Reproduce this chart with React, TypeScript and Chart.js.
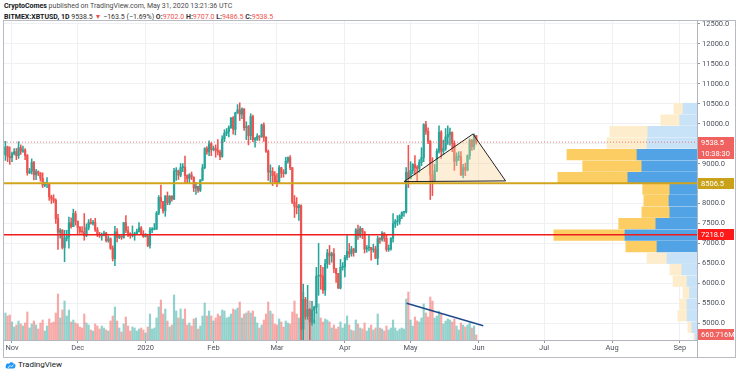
import React, { useEffect, useRef } from 'react';
import { Chart, registerables } from 'chart.js';

Chart.register(...registerables);

// day index 0 = Nov 1, 2019; first candle = Oct 29, 2019
const FIRST_DAY = -3;

// [open, high, low, close]
const CANDLES: number[][] = [
  // Oct 29-31
  [9220, 9560, 9080, 9420], [9420, 9440, 9050, 9180], [9180, 9420, 8980, 9150],
  // Nov
  [9150, 9290, 9050, 9250], [9250, 9380, 9220, 9300], [9300, 9380, 9100, 9200], [9200, 9550, 9130, 9400],
  [9400, 9470, 9230, 9310], [9310, 9440, 9280, 9340], [9340, 9380, 9100, 9200], [9200, 9230, 8710, 8770],
  [8770, 8880, 8750, 8810], [8810, 9120, 8740, 9030], [9030, 9060, 8590, 8720], [8720, 8860, 8600, 8800],
  [8800, 8820, 8700, 8760], [8760, 8780, 8560, 8630], [8630, 8770, 8400, 8460], [8460, 8540, 8420, 8490],
  [8490, 8650, 8400, 8500], [8500, 8510, 8080, 8170], [8170, 8210, 8000, 8120], [8120, 8220, 8020, 8080],
  [8080, 8120, 7500, 7620], [7620, 7730, 6850, 7280], [7280, 7370, 7130, 7330], [7330, 7350, 6860, 6900],
  [6900, 7330, 6540, 7130], [7130, 7330, 7060, 7160], [7160, 7660, 6880, 7520], [7520, 7640, 7380, 7420],
  [7420, 7860, 7420, 7750], [7750, 7810, 7460, 7560],
  // Dec
  [7560, 7560, 7240, 7400], [7400, 7420, 7250, 7300], [7300, 7420, 7250, 7290], [7290, 7750, 7080, 7200],
  [7200, 7490, 7170, 7400], [7400, 7600, 7340, 7530], [7530, 7620, 7480, 7500], [7500, 7580, 7460, 7530],
  [7530, 7630, 7300, 7340], [7340, 7400, 7170, 7230], [7230, 7280, 7150, 7200], [7200, 7260, 7080, 7205],
  [7205, 7310, 7190, 7260], [7260, 7280, 7040, 7070], [7070, 7190, 7030, 7120], [7120, 7140, 6850, 6880],
  [6880, 6940, 6560, 6620], [6620, 7430, 6440, 7290], [7290, 7370, 7040, 7150], [7150, 7220, 7120, 7190],
  [7190, 7200, 7100, 7150], [7150, 7530, 7130, 7520], [7520, 7700, 7270, 7320], [7320, 7420, 7170, 7250],
  [7250, 7270, 7130, 7200], [7200, 7440, 7160, 7210], [7210, 7280, 7080, 7250], [7250, 7360, 7240, 7300],
  [7300, 7520, 7280, 7390], [7390, 7420, 7220, 7220], [7220, 7320, 7150, 7170],
  // Jan
  [7170, 7250, 7160, 7180], [7180, 7210, 6920, 6950], [6950, 7400, 6880, 7340], [7340, 7400, 7270, 7350],
  [7350, 7500, 7340, 7360], [7360, 7800, 7350, 7760], [7760, 8200, 7720, 8150], [8150, 8460, 7880, 8050],
  [8050, 8050, 7760, 7820], [7820, 8200, 7680, 8190], [8190, 8290, 7970, 8020], [8020, 8200, 7970, 8180],
  [8180, 8200, 8060, 8110], [8110, 8880, 8100, 8810], [8810, 8900, 8580, 8820], [8820, 8840, 8600, 8710],
  [8710, 9000, 8670, 8900], [8900, 9000, 8800, 8910], [8910, 9190, 8500, 8700], [8700, 8720, 8520, 8630],
  [8630, 8750, 8500, 8720], [8720, 8790, 8600, 8660], [8660, 8670, 8300, 8390], [8390, 8530, 8230, 8430],
  [8430, 8440, 8280, 8330], [8330, 8600, 8300, 8590], [8590, 8980, 8570, 8900], [8900, 9400, 8870, 9380],
  [9380, 9430, 9230, 9290], [9290, 9570, 9200, 9500], [9500, 9530, 9200, 9350],
  // Feb
  [9350, 9440, 9320, 9380], [9380, 9470, 9160, 9330], [9330, 9600, 9220, 9290], [9290, 9340, 9100, 9180],
  [9180, 9700, 9160, 9620], [9620, 9850, 9550, 9760], [9760, 9880, 9700, 9800], [9800, 9950, 9670, 9900],
  [9900, 10150, 9880, 10150], [10150, 10180, 9740, 9860], [9860, 10290, 9720, 10270], [10270, 10480, 10260, 10350],
  [10350, 10525, 10080, 10240], [10240, 10400, 10130, 10370], [10370, 10380, 9830, 9900], [9900, 10050, 9600, 9930],
  [9930, 9960, 9470, 9700], [9700, 10250, 9600, 10180], [10180, 10220, 9550, 9600], [9600, 9660, 9410, 9610],
  [9610, 9750, 9580, 9690], [9690, 9700, 9580, 9670], [9670, 9990, 9660, 9970], [9970, 10020, 9560, 9660],
  [9660, 9680, 9280, 9310], [9310, 9340, 8580, 8790], [8790, 8970, 8530, 8800], [8800, 8900, 8450, 8700],
  [8700, 8800, 8520, 8540],
  // Mar
  [8540, 8750, 8420, 8530], [8530, 8950, 8510, 8900], [8900, 8910, 8650, 8760], [8760, 8850, 8660, 8750],
  [8750, 9160, 8740, 9060], [9060, 9170, 9010, 9150], [9150, 9200, 8850, 8900], [8900, 8900, 8000, 8030],
  [8030, 8200, 7650, 7930], [7930, 8150, 7740, 7900], [7900, 7980, 7580, 7950], [7950, 7970, 4400, 4850],
  [4850, 5980, 3600, 5600], [5600, 5650, 5100, 5170], [5170, 5950, 5100, 5350], [5350, 5370, 4450, 5030],
  [5030, 5550, 4950, 5330], [5330, 5430, 5000, 5400], [5400, 6400, 5250, 6180], [6180, 7000, 5700, 6200],
  [6200, 6450, 5850, 6180], [6180, 6400, 5750, 5830], [5830, 6600, 5700, 6490], [6490, 6850, 6380, 6760],
  [6760, 6950, 6470, 6690], [6690, 6780, 6530, 6740], [6740, 6870, 6270, 6370], [6370, 6370, 6020, 6250],
  [6250, 6250, 5870, 5880], [5880, 6600, 5860, 6400], [6400, 6520, 6330, 6420],
  // Apr
  [6420, 6700, 6160, 6650], [6650, 7200, 6590, 6800], [6800, 7000, 6650, 6740], [6740, 6930, 6680, 6860],
  [6860, 6880, 6680, 6780], [6780, 7370, 6770, 7340], [7340, 7460, 7100, 7200], [7200, 7420, 7150, 7370],
  [7370, 7380, 7120, 7290], [7290, 7300, 6760, 6860], [6860, 6950, 6780, 6890], [6890, 7200, 6810, 6900],
  [6900, 6900, 6580, 6840], [6840, 6980, 6780, 6860], [6860, 6930, 6620, 6630], [6630, 7180, 6470, 7120],
  [7120, 7150, 7000, 7100], [7100, 7300, 7060, 7260], [7260, 7270, 7050, 7130], [7130, 7220, 6800, 6850],
  [6850, 6960, 6800, 6860], [6860, 7150, 6830, 7130], [7130, 7750, 7030, 7500], [7500, 7600, 7400, 7540],
  [7540, 7700, 7450, 7560], [7560, 7720, 7480, 7690], [7690, 7790, 7620, 7780], [7780, 7800, 7680, 7790],
  [7790, 8900, 7760, 8780], [8780, 9460, 8400, 8630],
  // May
  [8630, 9050, 8620, 8830], [8830, 9000, 8750, 8980], [8980, 9200, 8720, 8900], [8900, 8950, 8560, 8880],
  [8880, 9100, 8780, 9030], [9030, 9400, 8950, 9150], [9150, 10000, 9050, 9980], [9980, 10060, 9730, 9810],
  [9810, 9900, 9500, 9560], [9560, 9580, 8100, 8720], [8720, 9150, 8200, 8560], [8560, 8980, 8550, 8820],
  [8820, 9370, 8800, 9310], [9310, 9950, 9260, 9790], [9790, 9830, 9130, 9310], [9310, 9590, 9220, 9380],
  [9380, 9880, 9330, 9670], [9670, 9950, 9480, 9730], [9730, 9890, 9460, 9780], [9780, 9800, 9300, 9510],
  [9510, 9570, 8830, 9060], [9060, 9270, 8950, 9170], [9170, 9300, 9080, 9180], [9180, 9300, 8700, 8720],
  [8720, 8980, 8640, 8900], [8900, 9010, 8700, 8840], [8840, 9220, 8820, 9200], [9200, 9620, 9110, 9580],
  [9580, 9610, 9330, 9420], [9420, 9750, 9350, 9702], [9702.0, 9707.0, 9486.5, 9538.5],
];

// daily volume, millions
const VOLUME_M: number[] = [
  3510, 3120, 3250,
  2340, 1690, 1950, 2470, 2080, 1820, 2210, 3640, 1560, 2080, 2470, 1950, 1430, 2210, 2600, 1170, 1820, 2730, 2210, 2340, 3510, 5980, 2860, 3900, 5070, 3120, 3900, 2340, 2600, 2210,
  2080, 1690, 1560, 3380, 2210, 1950, 1300, 1170, 2080, 1820, 1430, 1820, 1560, 1300, 1170, 2470, 3120, 4290, 2470, 1560, 1040, 2080, 2990, 1820, 1170, 1690, 1560, 1170, 1430, 1560, 1300,
  910, 1690, 3380, 1430, 1560, 2860, 4290, 5200, 3380, 4030, 2470, 1690, 1950, 5850, 3770, 2860, 4030, 2730, 4030, 1950, 2210, 1820, 2730, 2860, 1430, 1820, 3120, 4810, 3120, 3770, 3120,
  2470, 2860, 3380, 3120, 3900, 3770, 2860, 2990, 3380, 4030, 3900, 4160, 4940, 2860, 3380, 3510, 3770, 3510, 3770, 2990, 2210, 1560, 1950, 2600, 3380, 4940, 3770, 3380, 2080,
  1950, 2730, 2340, 1690, 2470, 2210, 2080, 3640, 5070, 3380, 2860, 7280, 6240, 3770, 2860, 5070, 3380, 2600, 3640, 4680, 2860, 2340, 2730, 2600, 2340, 1560, 1950, 1430, 1690, 2340, 1560,
  2080, 3120, 1950, 1300, 1170, 2600, 2080, 1560, 1430, 2210, 1170, 1560, 1950, 1300, 1560, 3380, 1560, 1430, 1170, 1820, 1300, 1560, 2600, 1560, 1170, 1430, 1560, 1430, 5330, 6240,
  2600, 1820, 2990, 2470, 2340, 2860, 4680, 3510, 2990, 5590, 5070, 2860, 3120, 3770, 3380, 2080, 2470, 2730, 2600, 2340, 2730, 1820, 1300, 2210, 1950, 1690, 1950, 2210, 1560, 1820, 660.716,
];

const MONTH_DAYS = [0, 30, 61, 92, 121, 152, 182, 213, 243, 274, 305];
const MONTH_LABELS = ['Nov', 'Dec', '2020', 'Feb', 'Mar', 'Apr', 'May', 'Jun', 'Jul', 'Aug', 'Sep'];
const PRICE_TICKS = [5000, 5500, 6000, 6500, 7000, 7500, 8000, 8500, 9000, 9500, 10000, 10500, 11000, 11500, 12000, 12500];

const LAST_PRICE = 9538.5;
const COUNTDOWN = '10:38:30';
const GOLD_LEVEL = 8506.5;
const RED_LEVEL = 7218.0;
const LAST_VOLUME_LABEL = '660.716M';

// triangle drawing: [day, price]
const TRIANGLE = [[179, 8550], [210.5, 9743], [225.4, 8567]];
// volume trend line: [day, volume M]
const VOL_TREND = [[180.2, 4770], [215.2, 1860]];

// visible range volume profile (24 rows)
const PROFILE_PRICES = [10381, 10092, 9804, 9515, 9227, 8938, 8650, 8361, 8073, 7784, 7496, 7207, 6919, 6630, 6342, 6053, 5765, 5476, 5188, 4899, 4611, 4322, 4034, 3745];
const PROFILE_UP = [4.9, 6.0, 17.2, 17.5, 21.0, 19.3, 24.2, 9.5, 9.8, 9.5, 14.4, 25.2, 14.0, 10.5, 5.3, 3.5, 2.6, 3.5, 3.5, 1.8, 0.7, 0.5, 0.3, 0.2];
const PROFILE_DOWN = [3.2, 6.7, 13.3, 14.0, 24.5, 20.7, 24.5, 9.5, 8.8, 9.8, 13.0, 24.9, 10.9, 7.0, 4.2, 4.9, 2.3, 2.5, 3.2, 1.4, 0.5, 0.4, 0.3, 0.2];
const VALUE_AREA = [4, 12];

const X_MIN = -3.65, X_MAX = 312.8;
const Y_MIN = 4580, Y_MAX = 12575;
const VOL_MAX = 41470;
const PROFILE_MAX = 242.5;

const UP = '#26a69a', DOWN = '#ef5350';
const FONT = 'Roboto, "Liberation Sans", sans-serif';

const framePlugin = {
  id: 'frame',
  afterDraw(chart: any) {
    const { ctx, chartArea, height, width } = chart;
    ctx.save();
    ctx.strokeStyle = '#b2b5be';
    ctx.lineWidth = 1;
    ctx.beginPath();
    ctx.moveTo(Math.round(chartArea.right) + 0.5, 0);
    ctx.lineTo(Math.round(chartArea.right) + 0.5, height);
    ctx.moveTo(0, Math.round(chartArea.bottom) + 0.5);
    ctx.lineTo(Math.round(chartArea.right), Math.round(chartArea.bottom) + 0.5);
    ctx.stroke();
    ctx.restore();
  },
};

const trianglePlugin = {
  id: 'triangle',
  afterDatasetsDraw(chart: any) {
    const { ctx, chartArea, scales } = chart;
    ctx.save();
    ctx.beginPath();
    ctx.rect(chartArea.left, chartArea.top, chartArea.right - chartArea.left, chartArea.bottom - chartArea.top);
    ctx.clip();
    ctx.beginPath();
    TRIANGLE.forEach((p, i) => {
      const x = scales.x.getPixelForValue(p[0]);
      const y = scales.y.getPixelForValue(p[1]);
      if (i === 0) ctx.moveTo(x, y); else ctx.lineTo(x, y);
    });
    ctx.closePath();
    ctx.fillStyle = 'rgba(248, 210, 150, 0.38)';
    ctx.fill();
    ctx.strokeStyle = '#222';
    ctx.lineWidth = 1;
    ctx.stroke();
    ctx.restore();
  },
};

const tagPlugin = {
  id: 'tags',
  afterDraw(chart: any) {
    const { ctx, chartArea, scales } = chart;
    const left = chartArea.right + 1;
    const w = 36;
    const tag = (cy: number, text: string, bg: string) => {
      ctx.fillStyle = bg;
      ctx.fillRect(left, Math.round(cy - 5.5), w, 11);
      ctx.fillStyle = '#ffffff';
      ctx.font = `7.5px ${FONT}`;
      ctx.textAlign = 'left';
      ctx.textBaseline = 'middle';
      ctx.fillText(text, left + 3, Math.round(cy - 5.5) + 6);
    };
    ctx.save();
    const yl = scales.y.getPixelForValue(LAST_PRICE);
    tag(yl, LAST_PRICE.toFixed(1), '#f0625f');
    tag(yl + 11, COUNTDOWN, '#f0625f');
    tag(scales.y.getPixelForValue(GOLD_LEVEL), GOLD_LEVEL.toFixed(1), '#c9a21a');
    tag(scales.y.getPixelForValue(RED_LEVEL), RED_LEVEL.toFixed(1), '#ff1a1a');
    tag(scales.vol.getPixelForValue(VOLUME_M[VOLUME_M.length - 1]) - 0.5, LAST_VOLUME_LABEL, '#f0625f');
    ctx.restore();
  },
};

export default function App() {
  const ref = useRef<HTMLCanvasElement>(null);

  useEffect(() => {
    const days = CANDLES.map((_, i) => FIRST_DAY + i);
    const isUp = CANDLES.map((c) => c[3] >= c[0]);
    const inVA = (i: number) => i >= VALUE_AREA[0] && i <= VALUE_AREA[1];
    const lastDay = days[days.length - 1];

    const chart = new Chart(ref.current as HTMLCanvasElement, {
      type: 'bar',
      data: {
        datasets: [
          {
            type: 'bar',
            data: VOLUME_M.map((v, i) => ({ x: days[i], y: v })),
            backgroundColor: isUp.map((u) => (u ? 'rgba(38,166,154,0.5)' : 'rgba(239,83,80,0.5)')),
            yAxisID: 'vol',
            barThickness: 1.5,
            grouped: false,
            order: 10,
          } as any,
          {
            type: 'bar',
            data: CANDLES.map((c, i) => ({ x: days[i], y: [c[2], c[1]] })),
            backgroundColor: isUp.map((u) => (u ? UP : DOWN)),
            yAxisID: 'y',
            barThickness: 0.9,
            grouped: false,
            order: 9,
          } as any,
          {
            type: 'bar',
            data: CANDLES.map((c, i) => ({ x: days[i], y: [c[0], c[3]] })),
            backgroundColor: isUp.map((u) => (u ? UP : DOWN)),
            yAxisID: 'y',
            barThickness: 1.6,
            minBarLength: 1,
            grouped: false,
            order: 8,
          } as any,
          {
            type: 'bar',
            indexAxis: 'y',
            xAxisID: 'px',
            yAxisID: 'y',
            data: PROFILE_PRICES.map((p, i) => ({ y: p, x: [0, PROFILE_UP[i]] })),
            backgroundColor: PROFILE_PRICES.map((_, i) => (inVA(i) ? '#51a3e6' : '#c8e2f7')),
            barThickness: 10.6,
            grouped: false,
            order: 7,
          } as any,
          {
            type: 'bar',
            indexAxis: 'y',
            xAxisID: 'px',
            yAxisID: 'y',
            data: PROFILE_PRICES.map((p, i) => ({ y: p, x: [PROFILE_UP[i], PROFILE_UP[i] + PROFILE_DOWN[i]] })),
            backgroundColor: PROFILE_PRICES.map((_, i) => (inVA(i) ? '#fbcd62' : '#fdedcc')),
            barThickness: 10.6,
            grouped: false,
            order: 7,
          } as any,
          {
            type: 'line',
            data: [{ x: X_MIN, y: LAST_PRICE }, { x: X_MAX, y: LAST_PRICE }],
            borderColor: 'rgba(239,83,80,0.75)',
            borderWidth: 1,
            borderDash: [1, 2],
            pointRadius: 0,
            yAxisID: 'y',
            order: 4,
          } as any,
          {
            type: 'line',
            data: VOL_TREND.map((p) => ({ x: p[0], y: p[1] })),
            borderColor: '#1f4a8a',
            borderWidth: 1.5,
            pointRadius: 0,
            yAxisID: 'vol',
            order: 3,
          } as any,
          {
            type: 'line',
            data: [{ x: X_MIN, y: GOLD_LEVEL }, { x: X_MAX, y: GOLD_LEVEL }],
            borderColor: '#d2a41c',
            borderWidth: 2,
            pointRadius: 0,
            yAxisID: 'y',
            order: 2,
          } as any,
          {
            type: 'line',
            data: [{ x: X_MIN, y: RED_LEVEL }, { x: X_MAX, y: RED_LEVEL }],
            borderColor: '#f01c1c',
            borderWidth: 1.5,
            pointRadius: 0,
            yAxisID: 'y',
            order: 1,
          } as any,
        ],
      },
      options: {
        animation: false,
        responsive: false,
        devicePixelRatio: 1,
        layout: { padding: 0 },
        plugins: { legend: { display: false }, tooltip: { enabled: false } },
        scales: {
          x: {
            type: 'linear',
            axis: 'x',
            position: 'bottom',
            min: X_MIN,
            max: X_MAX,
            offset: false,
            grid: { offset: false, color: '#eef0f4', tickColor: '#9598a1', tickLength: 3, drawTicks: true },
            border: { display: false },
            afterBuildTicks: (scale: any) => {
              scale.ticks = MONTH_DAYS.map((v) => ({ value: v }));
            },
            afterFit: (scale: any) => {
              scale.height = 17;
              scale.paddingLeft = 0;
              scale.paddingRight = 0;
            },
            ticks: {
              autoSkip: false,
              maxRotation: 0,
              padding: 1,
              color: '#50535e',
              font: { size: 7.5, family: FONT },
              callback: (v: any) => {
                const i = MONTH_DAYS.indexOf(Number(v));
                return i >= 0 ? MONTH_LABELS[i] : '';
              },
            },
          },
          y: {
            type: 'linear',
            axis: 'y',
            position: 'right',
            min: Y_MIN,
            max: Y_MAX,
            offset: false,
            beginAtZero: false,
            grid: { offset: false, color: '#eef0f4', tickColor: '#9598a1', tickLength: 3, drawTicks: true },
            border: { display: false },
            afterBuildTicks: (scale: any) => {
              scale.ticks = PRICE_TICKS.map((v) => ({ value: v }));
            },
            afterFit: (scale: any) => {
              scale.width = 38;
              scale.paddingTop = 0;
              scale.paddingBottom = 0;
            },
            ticks: {
              padding: 2,
              color: '#50535e',
              font: { size: 7.5, family: FONT },
              callback: (v: any) => Number(v).toFixed(1),
            },
          },
          vol: {
            type: 'linear',
            axis: 'y',
            position: 'left',
            display: false,
            min: 0,
            max: VOL_MAX,
            offset: false,
            beginAtZero: true,
          },
          px: {
            type: 'linear',
            axis: 'x',
            position: 'top',
            display: false,
            reverse: true,
            min: 0,
            max: PROFILE_MAX,
            offset: false,
          },
        },
      } as any,
      plugins: [trianglePlugin, framePlugin, tagPlugin],
    });
    void lastDay;
    return () => chart.destroy();
  }, []);

  const red = { color: '#ef5350' };
  return (
    <div
      style={{
        position: 'absolute',
        left: 0,
        top: 0,
        width: 736,
        height: 375,
        background: '#ffffff',
        overflow: 'hidden',
        fontFamily: FONT,
      }}
    >
      <div style={{ position: 'absolute', left: 4, top: 1, fontSize: 7, lineHeight: '10px', color: '#4a4a4a', whiteSpace: 'nowrap' }}>
        <b style={{ color: '#131722' }}>CryptoComes</b> published on TradingView.com, May 31, 2020 13:21:36 UTC
      </div>
      <div style={{ position: 'absolute', left: 4, top: 11.5, fontSize: 7, lineHeight: '10px', color: '#333', whiteSpace: 'nowrap' }}>
        <b style={{ color: '#131722' }}>BITMEX:XBTUSD, 1D</b> 9538.5 <span style={red}>▼</span> −163.5 (−1.69%) <b>O:</b>
        <span style={red}>9702.0</span> <b>H:</b><span style={red}>9707.0</span> <b>L:</b>
        <span style={red}>9486.5</span> <b>C:</b><span style={red}>9538.5</span>
      </div>
      <div
        style={{
          position: 'absolute',
          left: 3,
          top: 20,
          width: 733,
          height: 338,
          border: '1px solid #b8bbc4',
          boxSizing: 'border-box',
        }}
      />
      <canvas ref={ref} width={731} height={336} style={{ position: 'absolute', left: 4, top: 21, width: 731, height: 336 }} />
      <div style={{ position: 'absolute', left: 5, top: 360, display: 'flex', alignItems: 'center' }}>
        <svg width="11" height="8" viewBox="0 0 22 16">
          <path d="M5 15 C1 15 0 11 2 9 C2 5 6 4 8 6 C9 2 15 1 17 5 C21 5 22 10 20 13 C19 15 17 15 16 15 Z" fill="#2196f3" />
          <path d="M6 14 L10 9 L13 12 L17 7" stroke="#ffffff" strokeWidth="1.6" fill="none" />
        </svg>
        <span style={{ fontSize: 8, marginLeft: 2, color: '#131722' }}>TradingView</span>
      </div>
    </div>
  );
}
